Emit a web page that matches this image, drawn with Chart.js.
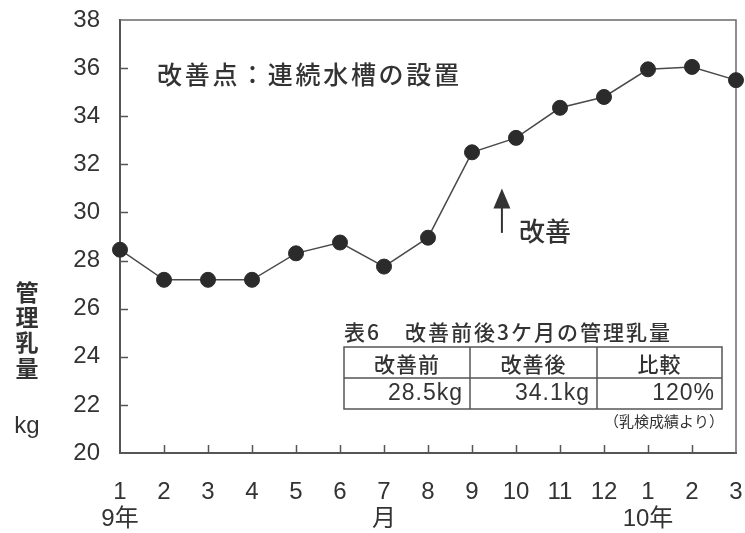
<!DOCTYPE html>
<html lang="ja">
<head>
<meta charset="utf-8">
<title>管理乳量の推移</title>
<script src="https://cdn.jsdelivr.net/npm/chart.js@4/dist/chart.umd.min.js"></script>
<style>
  html, body { margin: 0; padding: 0; background: #fff; }
  #wrap { width: 745px; height: 533px; position: relative; }
</style>
</head>
<body>
<div id="wrap"><canvas id="chart"></canvas></div>
<script>
// 月（1行目）と年・月の補足（2行目）
const months = ['1', '2', '3', '4', '5', '6', '7', '8', '9', '10', '11', '12', '1', '2', '3'];
const subLabels = ['9年', '', '', '', '', '', '月', '', '', '', '', '', '10年', '', ''];

// 管理乳量 (kg)
const milkYield = [28.45, 27.2, 27.2, 27.2, 28.3, 28.75, 27.75, 28.95, 32.5, 33.1, 34.35, 34.8, 35.95, 36.05, 35.5];

// 縦軸の範囲と目盛り
const yMin = 20;
const yMax = 38;
const yStep = 2;

// 注記
const noteTitle = '改善点：連続水槽の設置';
const arrowLabel = '改善';
const arrowAt = 8.68;       // 矢印の位置（カテゴリ番号）
const arrowFrom = 29.15;    // 矢印の根元（kg）
const arrowTo = 31.0;       // 矢印の先端（kg）

// 表6
const tableTitleNo = '表6';
const tableTitle = '改善前後3ケ月の管理乳量';
const tableHeads = ['改善前', '改善後', '比較'];
const tableCells = ['28.5kg', '34.1kg', '120%'];
const tableNote = '（乳検成績より）';

// 縦軸タイトル
const yTitleChars = ['管', '理', '乳', '量'];
const yUnit = 'kg';

const TEXT = '#333333';
const CJK = '"Noto Sans CJK JP", "Noto Sans", sans-serif';
const LATIN = '"Liberation Sans", Arial, "Noto Sans CJK JP", sans-serif';

const xLabels = months.map((m, i) => [m, subLabels[i]]);

// 枠・内向きの目盛り・注記・表を描く
const decorations = {
  id: 'decorations',
  beforeDatasetsDraw(chart) {
    const { ctx, chartArea: a, scales: { x, y } } = chart;
    ctx.save();
    // 上辺と右辺の枠
    ctx.strokeStyle = '#6a6a6a';
    ctx.lineWidth = 1.5;
    ctx.beginPath();
    ctx.moveTo(a.left, a.top);
    ctx.lineTo(a.right, a.top);
    ctx.lineTo(a.right, a.bottom);
    ctx.stroke();

    // 内向きの目盛り
    ctx.strokeStyle = '#555';
    ctx.lineWidth = 1.5;
    ctx.beginPath();
    y.ticks.forEach(t => {
      if (t.value <= yMin || t.value >= yMax) return;
      const py = Math.round(y.getPixelForValue(t.value)) + 0.5;
      ctx.moveTo(a.left, py);
      ctx.lineTo(a.left + 8, py);
    });
    x.ticks.forEach((t, i) => {
      if (i === 0 || i === x.ticks.length - 1) return;
      const px = Math.round(x.getPixelForTick(i)) + 0.5;
      ctx.moveTo(px, a.bottom);
      ctx.lineTo(px, a.bottom - 8);
    });
    ctx.stroke();
    ctx.restore();
  },
  afterDraw(chart) {
    const { ctx, scales: { x, y } } = chart;
    ctx.save();
    ctx.fillStyle = TEXT;
    ctx.textBaseline = 'middle';

    // 注記タイトル（字間を広めに）
    ctx.font = `500 25px ${CJK}`;
    ctx.textAlign = 'left';
    let cx = 157;
    for (const ch of noteTitle) {
      ctx.fillText(ch, cx, 74);
      cx += 27.7;
    }

    // 改善の矢印
    const ax = x.getPixelForValue(arrowAt);
    const yBase = y.getPixelForValue(arrowFrom);
    const yTip = y.getPixelForValue(arrowTo);
    ctx.strokeStyle = '#333';
    ctx.lineWidth = 2;
    ctx.beginPath();
    ctx.moveTo(ax, yBase);
    ctx.lineTo(ax, yTip + 16);
    ctx.stroke();
    ctx.beginPath();
    ctx.moveTo(ax, yTip);
    ctx.lineTo(ax - 8.5, yTip + 20);
    ctx.lineTo(ax + 8.5, yTip + 20);
    ctx.closePath();
    ctx.fill();
    ctx.font = `500 26px ${CJK}`;
    ctx.fillText(arrowLabel, 519, 231);

    // 表6
    ctx.font = `500 21px ${CJK}`;
    ctx.letterSpacing = '2px';
    ctx.fillText(tableTitleNo, 344, 332);
    ctx.fillText(tableTitle, 405, 332);

    const tl = 344, tr = 722, tt = 347, tm = 378, tb = 409;
    const cols = [tl, 470, 597, tr];
    ctx.strokeStyle = '#555';
    ctx.lineWidth = 1.5;
    ctx.beginPath();
    ctx.rect(tl, tt, tr - tl, tb - tt);
    ctx.moveTo(tl, tm); ctx.lineTo(tr, tm);
    ctx.moveTo(cols[1], tt); ctx.lineTo(cols[1], tb);
    ctx.moveTo(cols[2], tt); ctx.lineTo(cols[2], tb);
    ctx.stroke();

    ctx.textAlign = 'center';
    ctx.letterSpacing = '1px';
    tableHeads.forEach((h, i) => {
      ctx.fillText(h, (cols[i] + cols[i + 1]) / 2, 364);
    });
    ctx.font = `23px ${LATIN}`;
    ctx.textAlign = 'right';
    ctx.letterSpacing = '1px';
    tableCells.forEach((c, i) => {
      ctx.fillText(c, cols[i + 1] - 7, 394);
    });
    ctx.letterSpacing = '0px';
    ctx.font = `15px ${CJK}`;
    ctx.fillText(tableNote, 724, 421);

    // 縦軸タイトル（縦書き）
    ctx.textAlign = 'center';
    ctx.font = `bold 23px ${CJK}`;
    const ys = [292, 317, 342, 368];
    yTitleChars.forEach((ch, i) => ctx.fillText(ch, 27, ys[i]));
    ctx.font = `24px ${LATIN}`;
    ctx.fillText(yUnit, 27, 426);
    ctx.restore();
  }
};

new Chart(document.getElementById('chart'), {
  type: 'line',
  data: {
    labels: xLabels,
    datasets: [{
      data: milkYield,
      borderColor: '#4a4a4a',
      borderWidth: 1.5,
      pointRadius: 7.5,
      pointBackgroundColor: '#2b2b2b',
      pointBorderColor: '#2b2b2b',
      pointBorderWidth: 1,
      tension: 0,
      clip: false
    }]
  },
  options: {
    responsive: true,
    maintainAspectRatio: false,
    animation: false,
    events: [],
    layout: { padding: { left: 20, right: 9, top: 20, bottom: 0 } },
    plugins: {
      legend: { display: false },
      tooltip: { enabled: false },
      title: { display: false }
    },
    scales: {
      x: {
        type: 'category',
        offset: false,
        grid: { display: false, drawTicks: false },
        border: { display: true, color: '#555', width: 2 },
        ticks: {
          color: TEXT,
          font: { family: LATIN, size: 24, lineHeight: 1.12 },
          padding: 26,
          maxRotation: 0,
          autoSkip: false
        },
        afterFit(s) {
          s.height = 80;
          s.paddingLeft = 0;
          s.paddingRight = 0;
        }
      },
      y: {
        min: yMin,
        max: yMax,
        grid: { display: false, drawTicks: false },
        border: { display: true, color: '#555', width: 2 },
        ticks: {
          stepSize: yStep,
          color: TEXT,
          font: { family: LATIN, size: 24 },
          padding: 20
        },
        afterFit(s) {
          s.width = 100;
          s.paddingTop = 0;
          s.paddingBottom = 0;
        }
      }
    }
  },
  plugins: [decorations]
});
</script>
</body>
</html>
